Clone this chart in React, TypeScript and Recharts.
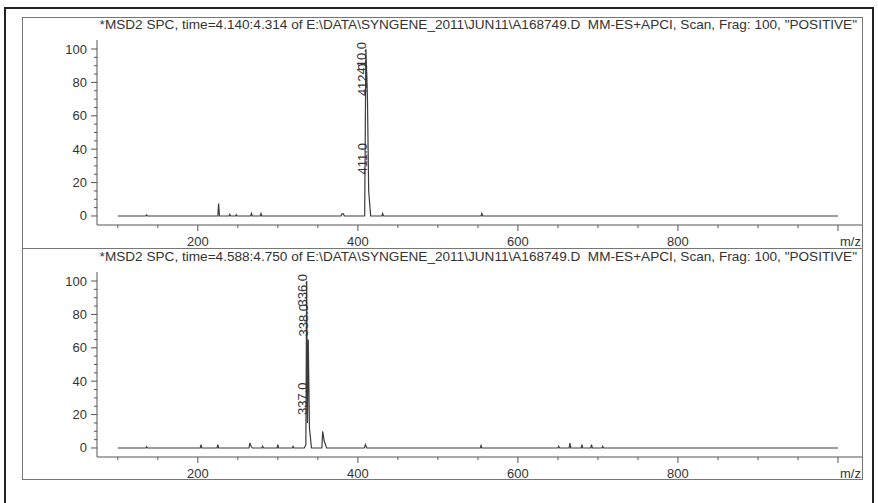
import React from 'react'
import { ComposedChart, Line, Scatter, XAxis, YAxis } from 'recharts'

// upper scan, time 4.140-4.314
const topMz = [100, 135, 136, 137, 225, 226, 227, 239, 240, 241, 247, 248, 249, 266, 267, 268, 278, 279, 280, 379, 380, 382, 383, 408.5, 410, 412, 413.5, 416, 430, 431, 432, 554, 555, 556, 1000]
const topInt = [0, 0, 0.6, 0, 0, 7.5, 0, 0, 1, 0, 0, 0.8, 0, 0, 1.5, 0, 0, 1.5, 0, 0, 1.3, 1.3, 0, 0, 100, 70, 15, 0, 0, 1.5, 0, 0, 1.5, 0, 0]
const topLabelMz = [410, 412, 411]
const topLabelInt = [100, 70, 23]
const topLabelText = ['410.0', '412.0', '411.0']
const topTitle =
  '*MSD2 SPC, time=4.140:4.314 of E:\\DATA\\SYNGENE_2011\\JUN11\\A168749.D  MM-ES+APCI, Scan, Frag: 100, "POSITIVE"'

// lower scan, time 4.588-4.750
const bottomMz = [100, 135, 136, 137, 203, 204, 205, 224, 225, 226, 264, 265, 266.5, 268, 280, 281, 282, 299, 300, 301, 318, 319, 320, 333, 335, 336, 337, 338, 339.5, 342, 355, 356, 358, 361, 408, 409.5, 411, 553, 554, 555, 650, 651, 652, 664, 665, 666, 679, 680, 681, 691, 692, 693, 705, 706, 707, 1000]
const bottomInt = [0, 0, 0.8, 0, 0, 2, 0, 0, 2, 0, 0, 3, 1, 0, 0, 1, 0, 0, 2, 0, 0, 1, 0, 0, 2, 100, 15, 65, 12, 0, 0, 10, 4, 0, 0, 2, 0, 0, 1.5, 0, 0, 1, 0, 0, 3, 0, 0, 2, 0, 0, 2, 0, 0, 1, 0, 0]
const bottomLabelMz = [336, 338, 337]
const bottomLabelInt = [100, 65, 18]
const bottomLabelText = ['336.0', '338.0', '337.0']
const bottomTitle =
  '*MSD2 SPC, time=4.588:4.750 of E:\\DATA\\SYNGENE_2011\\JUN11\\A168749.D  MM-ES+APCI, Scan, Frag: 100, "POSITIVE"'

const xTicks = [100, 150, 200, 250, 300, 350, 400, 450, 500, 550, 600, 650, 700, 750, 800, 850, 900, 950, 1000]
const xTickLabels = [200, 400, 600, 800]
const xUnit = 'm/z'
const yTicks = [0, 5, 10, 15, 20, 25, 30, 35, 40, 45, 50, 55, 60, 65, 70, 75, 80, 85, 90, 95, 100]
const yTickLabels = [0, 20, 40, 60, 80, 100]

const FONT = '"Liberation Sans", Arial, sans-serif'
const AXIS = '#555'
const TEXT = '#333'
const W = 840
const H = 232
const PLOT_TOP = 23
const X_AXIS_H = 24
const Y_AXIS_W = 75
const PLOT_BOTTOM = H - X_AXIS_H

function XTick(props: any) {
  const { x, payload } = props
  const v = payload.value
  const major = xTickLabels.includes(v) || v === 1000
  return (
    <g>
      <line x1={x} x2={x} y1={PLOT_BOTTOM} y2={PLOT_BOTTOM + (major ? 6 : 3)} stroke={AXIS} />
      {xTickLabels.includes(v) && (
        <text x={x} y={PLOT_BOTTOM + 16} dy={4.5} textAnchor="middle" fontSize={13} fontFamily={FONT} fill={TEXT}>
          {v}
        </text>
      )}
      {v === 1000 && (
        <text x={x + 2} y={PLOT_BOTTOM + 16} dy={4.5} textAnchor="start" fontSize={13} fontFamily={FONT} fill={TEXT}>
          {xUnit}
        </text>
      )}
    </g>
  )
}

function YTick(props: any) {
  const { y, payload } = props
  const v = payload.value
  const major = yTickLabels.includes(v)
  return (
    <g>
      <line x1={Y_AXIS_W} x2={Y_AXIS_W - (major ? 6 : 3)} y1={y} y2={y} stroke={AXIS} />
      {major && (
        <text x={Y_AXIS_W - 10} y={y} dy={4.5} textAnchor="end" fontSize={13} fontFamily={FONT} fill={TEXT}>
          {v}
        </text>
      )}
    </g>
  )
}

// vertical peak label, pushed down when it would run off the top of the plot
function PeakLabel(props: any) {
  const { cx, cy, payload } = props
  const len = payload.text.length * 6.5
  const start = Math.max(cy - 3, PLOT_TOP + 2 + len)
  return (
    <text
      x={cx}
      y={start}
      transform={`rotate(-90 ${cx} ${start})`}
      fontSize={13}
      fontFamily={FONT}
      fill={TEXT}
    >
      {payload.text}
    </text>
  )
}

type PanelProps = {
  mz: number[]
  intensity: number[]
  labelMz: number[]
  labelInt: number[]
  labelText: string[]
  title: string
  top: number
}

function SpectrumPanel({ mz, intensity, labelMz, labelInt, labelText, title, top }: PanelProps) {
  const data = mz.map((m, i) => ({ mz: m, int: intensity[i] }))
  const labels = labelMz.map((m, i) => ({ mz: m, int: labelInt[i], text: labelText[i] }))
  return (
    <div style={{ position: 'absolute', left: 22, top, width: W, height: H }}>
      <div
        style={{
          position: 'absolute',
          right: 5,
          top: 1,
          fontFamily: FONT,
          fontSize: 13.6,
          lineHeight: '14px',
          color: TEXT,
          whiteSpace: 'pre',
        }}
      >
        {title}
      </div>
      <ComposedChart width={W} height={H} data={data} margin={{ top: PLOT_TOP, right: 0, left: 0, bottom: 0 }}>
        <XAxis
          dataKey="mz"
          type="number"
          domain={[74, 1030]}
          ticks={xTicks}
          interval={0}
          tick={<XTick />}
          tickLine={false}
          axisLine={{ stroke: AXIS }}
          height={X_AXIS_H}
          allowDataOverflow
        />
        <YAxis
          type="number"
          domain={[-5.4, 105.4]}
          ticks={yTicks}
          interval={0}
          tick={<YTick />}
          tickLine={false}
          axisLine={{ stroke: AXIS }}
          width={Y_AXIS_W}
          allowDataOverflow
        />
        <Line
          data={data}
          dataKey="int"
          type="linear"
          stroke="#3c3c3c"
          strokeWidth={1.2}
          dot={false}
          isAnimationActive={false}
        />
        <Scatter data={labels} dataKey="int" shape={<PeakLabel />} isAnimationActive={false} />
      </ComposedChart>
    </div>
  )
}

export default function App() {
  return (
    <div
      style={{
        position: 'absolute',
        left: 0,
        top: 0,
        width: 878,
        height: 503,
        overflow: 'hidden',
        background: '#fff',
      }}
    >
      <div
        style={{
          position: 'absolute',
          left: 4,
          top: 7,
          width: 870,
          height: 520,
          boxSizing: 'border-box',
          border: '2px solid #222',
        }}
      />
      <div
        style={{
          position: 'absolute',
          left: 22,
          top: 17,
          width: 841,
          height: 463,
          boxSizing: 'border-box',
          border: '1px solid #777',
        }}
      />
      <div style={{ position: 'absolute', left: 22, top: 248, width: 841, height: 1, background: '#777' }} />
      <SpectrumPanel
        mz={topMz}
        intensity={topInt}
        labelMz={topLabelMz}
        labelInt={topLabelInt}
        labelText={topLabelText}
        title={topTitle}
        top={17}
      />
      <SpectrumPanel
        mz={bottomMz}
        intensity={bottomInt}
        labelMz={bottomLabelMz}
        labelInt={bottomLabelInt}
        labelText={bottomLabelText}
        title={bottomTitle}
        top={249}
      />
    </div>
  )
}
